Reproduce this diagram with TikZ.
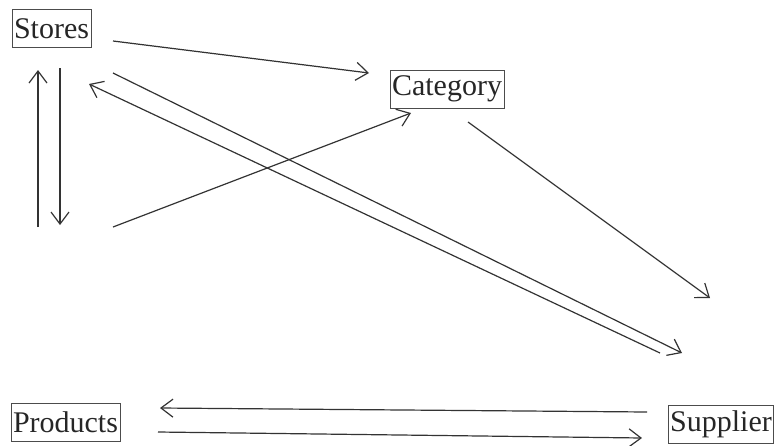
\documentclass[tikz,border=0pt]{standalone}
\usepackage{fontspec}
\setmainfont{Liberation Serif}
\usetikzlibrary{arrows.meta}
\begin{document}
\begin{tikzpicture}[x=1pt,y=-1pt,
  entity/.style={draw=black!70,line width=0.9pt,inner xsep=2pt,inner ysep=1pt,minimum height=38pt,font=\fontsize{30}{34}\selectfont,text=black!85},
  link/.style={draw=black!80,line width=1.2pt,-{Straight Barb[length=12pt,width=18pt,line width=1.2pt]}}]
\useasboundingbox (0,0) rectangle (779,445);
\node[entity] (stores) at (51.5,28.5) {Stores};
\node[entity] (category) at (447,89) {Category};
\node[entity] (products) at (65.5,422) {Products};
\node[entity] (supplier) at (721,424.5) {Supplier};
\coordinate (a1s) at (113,41); \coordinate (a1e) at (369,73);
\coordinate (us) at (38,227); \coordinate (ue) at (38,70);
\coordinate (ds) at (60,68); \coordinate (de) at (60,225);
\coordinate (a3s) at (113,227); \coordinate (a3e) at (411,113);
\coordinate (a4s) at (468,122); \coordinate (a4e) at (710,298);
\coordinate (d1s) at (113,73); \coordinate (d1e) at (682,353);
\coordinate (d2s) at (660,353); \coordinate (d2e) at (89,84);
\coordinate (b1s) at (647,412); \coordinate (b1e) at (160,408);
\coordinate (b2s) at (158,432); \coordinate (b2e) at (642,438);
\draw[link] (a1s) -- (a1e);
\draw[link] (us) -- (ue);
\draw[link] (ds) -- (de);
\draw[link] (a3s) -- (a3e);
\draw[link] (a4s) -- (a4e);
\draw[link] (d1s) -- (d1e);
\draw[link] (d2s) -- (d2e);
\draw[link] (b1s) -- (b1e);
\draw[link] (b2s) -- (b2e);
\end{tikzpicture}
\end{document}
